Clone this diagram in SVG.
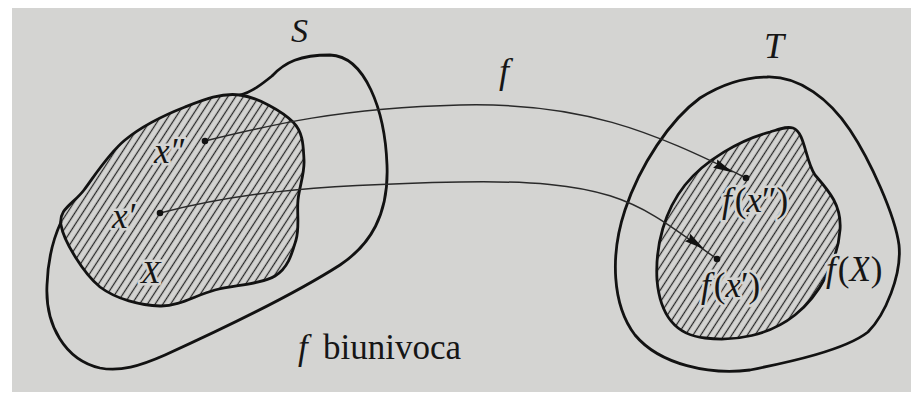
<svg xmlns="http://www.w3.org/2000/svg" width="911" height="394" viewBox="0 0 911 394">
  <defs>
    <pattern id="hatch" width="6.5" height="6.5" patternUnits="userSpaceOnUse" patternTransform="rotate(33)">
      <line x1="3.25" y1="0" x2="3.25" y2="6.5" stroke="#262626" stroke-width="1.25"/>
    </pattern>
    <polygon id="ah" points="0,0 -20,-4.6 -18,0 -20,4.6"/>
  </defs>
  <style>
    .outline { fill: none; stroke: #121212; stroke-width: 2.8; stroke-linejoin: round; stroke-linecap: round; }
    .hatched { fill: url(#hatch); stroke: #121212; stroke-width: 2.8; stroke-linejoin: round; }
    .conn { fill: none; stroke: #2a2a2a; stroke-width: 1.5; }
    .head { fill: #121212; }
    .dot { fill: #121212; }
    .lbl { font-family: "Liberation Serif", "Times New Roman", serif; fill: #161616; }
    .it { font-style: italic; }
    .halo { stroke: #d4d4d2; stroke-width: 5; paint-order: stroke; stroke-linejoin: round; }
  </style>

  <!-- paper -->
  <rect x="0" y="0" width="911" height="394" fill="#ffffff"/>
  <rect x="12" y="8" width="899" height="384" fill="#d4d4d2"/>

  <!-- set S (outer boundary, upper-left part shared with X) -->
  <g id="node-S">
    <path class="outline" d="M240,95 C252,92 262,84 272,76 C285,62 300,55 330,55 C365,56 385,110 387,165 C389,215 370,245 340,265 C290,297 220,330 165,355 C140,366 120,372 100,368 C65,360 45,325 47,285 C48,255 55,235 61,222"/>
    <text class="lbl it" x="291" y="42" font-size="34">S</text>
  </g>

  <!-- subset X (hatched) -->
  <g id="node-X">
    <path class="hatched" d="M240,95 C258,97.5 282.3,111.2 293,122 C303.7,132.8 303.2,147 304,160 C304.8,173 299.3,186.7 298,200 C296.7,213.3 299.8,227.3 296,240 C292.2,252.7 288.5,267.7 275,276 C261.5,284.3 234.2,285 215,290 C195.8,295 179.2,306.5 160,306 C140.8,305.5 116.3,299.3 100,287 C83.5,273.5 63.7,241.2 61,225 C58.3,208.8 73.3,204.2 84,190 C94.7,175.8 108.2,153.8 125,140 C141.8,126.2 165.8,114.5 185,107 C204.2,99.5 222,92.5 240,95 Z"/>
    <text class="lbl it halo" x="141" y="283" font-size="32">X</text>
  </g>

  <!-- set T -->
  <g id="node-T">
    <path class="outline" d="M767,77 C800,76 830,100 850,130 C870,160 895,215 899,245 C902,275 885,315 868,332 C845,350 790,362 750,370 C710,375 660,365 635,335 C612,305 610,255 625,210 C640,165 670,120 700,98 C722,84 745,77 767,77 Z"/>
    <text class="lbl it" x="764" y="58" font-size="36">T</text>
  </g>

  <!-- image f(X) (hatched) -->
  <g id="node-fX">
    <path class="hatched" d="M793,128 C805,132 805,160 815,175 C828,190 842,205 840,230 C838,260 820,295 795,315 C770,335 735,342 705,338 C675,335 660,315 657,280 C655,245 665,210 685,185 C705,160 740,140 770,132 C780,129 787,126 793,128 Z"/>
    <text class="lbl halo" x="826" y="281" font-size="35"><tspan class="it">f</tspan><tspan dx="2">(</tspan><tspan class="it">X</tspan>)</text>
  </g>

  <!-- connectors: the map f -->
  <g id="connectors">
    <path id="edge-x2" class="conn" d="M205,141 C270,125 340,108 460,105 C580,102 650,130 746,178"/>
    <path id="edge-x1" class="conn" d="M160,213 C230,195 300,185 460,182 C620,179 640,205 717,259"/>
    <use href="#ah" class="head" transform="translate(733,172.6) rotate(26.8)"/>
    <use href="#ah" class="head" transform="translate(704,249) rotate(35)"/>
    <circle class="dot" cx="205" cy="141" r="3.3"/>
    <circle class="dot" cx="160" cy="213" r="3.3"/>
    <circle class="dot" cx="746" cy="178" r="3.3"/>
    <circle class="dot" cx="717" cy="259" r="3.3"/>
    <text class="lbl it" x="499" y="83" font-size="36">f</text>
  </g>

  <!-- point labels -->
  <g id="node-x2">
    <text class="lbl it halo" x="154" y="163" font-size="35">x″</text>
  </g>
  <g id="node-x1">
    <text class="lbl it halo" x="112" y="228" font-size="35">x′</text>
  </g>
  <g id="node-fx2">
    <text class="lbl halo" x="722" y="212" font-size="35"><tspan class="it">f</tspan><tspan dx="3">(</tspan><tspan class="it">x</tspan>″)</text>
  </g>
  <g id="node-fx1">
    <text class="lbl halo" x="701" y="297" font-size="35"><tspan class="it">f</tspan><tspan dx="3">(</tspan><tspan class="it">x</tspan>′)</text>
  </g>

  <!-- caption -->
  <g id="caption">
    <text class="lbl" y="359" font-size="35"><tspan class="it" x="298">f</tspan><tspan x="323">biunivoca</tspan></text>
  </g>
</svg>
